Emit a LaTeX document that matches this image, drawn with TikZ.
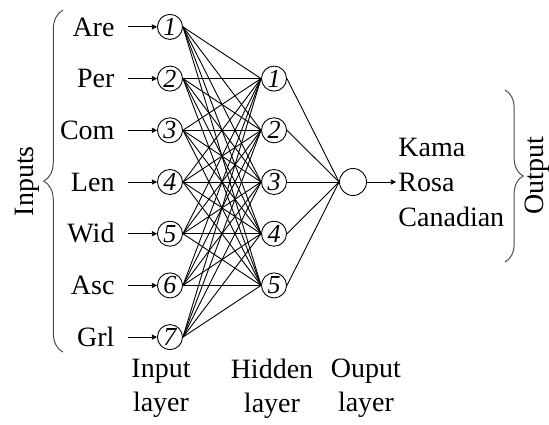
\documentclass[tikz,border=0pt]{standalone}
\usepackage{fontspec}
\setmainfont{LiberationSerif}[Extension=.ttf, UprightFont=*-Regular, ItalicFont=*-Italic, BoldFont=*-Bold, BoldItalicFont=*-BoldItalic]
\usetikzlibrary{arrows.meta,positioning,decorations.pathreplacing,calc}

\begin{document}
\begin{tikzpicture}[x=1cm,y=1cm,>={Triangle[length=2.6pt,width=2.6pt]}, line width=0.45pt]
  \fontsize{14}{17}\selectfont
  \tikzset{
    neuron/.style={circle, draw, minimum size=4.4mm, inner sep=0pt, font=\fontsize{13}{13}\selectfont\itshape},
    outnode/.style={circle, draw, minimum size=4.75mm, inner sep=0pt},
    feat/.style={anchor=east, inner sep=0pt, text height=9.3pt, text depth=0pt},
    layerlab/.style={align=center, inner sep=0pt},
    brc/.style={decorate, decoration={brace, amplitude=3.4mm}, draw=black!70, line width=0.5pt}
  }
  \useasboundingbox (-2.987,-4.253) rectangle (6.660,3.198);
  % input layer
  \foreach \name [count=\i] in {Are,Per,Com,Len,Wid,Asc,Grl}{
    \node[neuron] (in\i) at (0,{(4-\i)*0.9085}) {\i};
    \node[feat] (lab\i) at (-0.967,{(4-\i)*0.9085}) {\name};
    \coordinate (st\i) at (-0.738,{(4-\i)*0.9085});
    \draw[->] (st\i) -- (in\i);
  }
  % hidden layer
  \foreach \j in {1,...,5}{
    \node[neuron] (hid\j) at (1.828,{(3-\j)*0.9085}) {\j};
  }
  \node[outnode] (out) at (3.216,0) {};
  \foreach \i in {1,...,7}{
    \foreach \j in {1,...,5}{
      \draw (in\i.east) -- (hid\j.west);
    }
  }
  \foreach \j in {1,...,5}
    \draw (hid\j.east) -- (out.west);
  \node[anchor=west, align=left, inner sep=0pt, font=\fontsize{14}{17.5}\selectfont] (cls) at (4.007,0) {Kama\\Rosa\\Canadian};
  \draw[->, shorten >=1pt] (out) -- (cls.west);
  % braces
  \coordinate (ibot) at (-1.880,-2.99);
  \coordinate (itop) at (-1.880,3.02);
  \draw[brc] (ibot) -- (itop);
  \node[rotate=90] (inlab) at (-2.513,0.015) {Inputs};
  \coordinate (otop) at (5.887,1.617);
  \coordinate (obot) at (5.887,-1.406);
  \draw[brc, decoration={amplitude=3.2mm}] (otop) -- (obot);
  \node[rotate=90] (outlab) at (6.449,0.105) {Output};
  % layer names
  \node[layerlab] (linp) at (-0.158,-3.63) {Input\\layer};
  \node[layerlab] (lhid) at (1.792,-3.63) {Hidden\\layer};
  \node[layerlab] (lout) at (3.444,-3.63) {Ouput\\layer};
\end{tikzpicture}
\end{document}
